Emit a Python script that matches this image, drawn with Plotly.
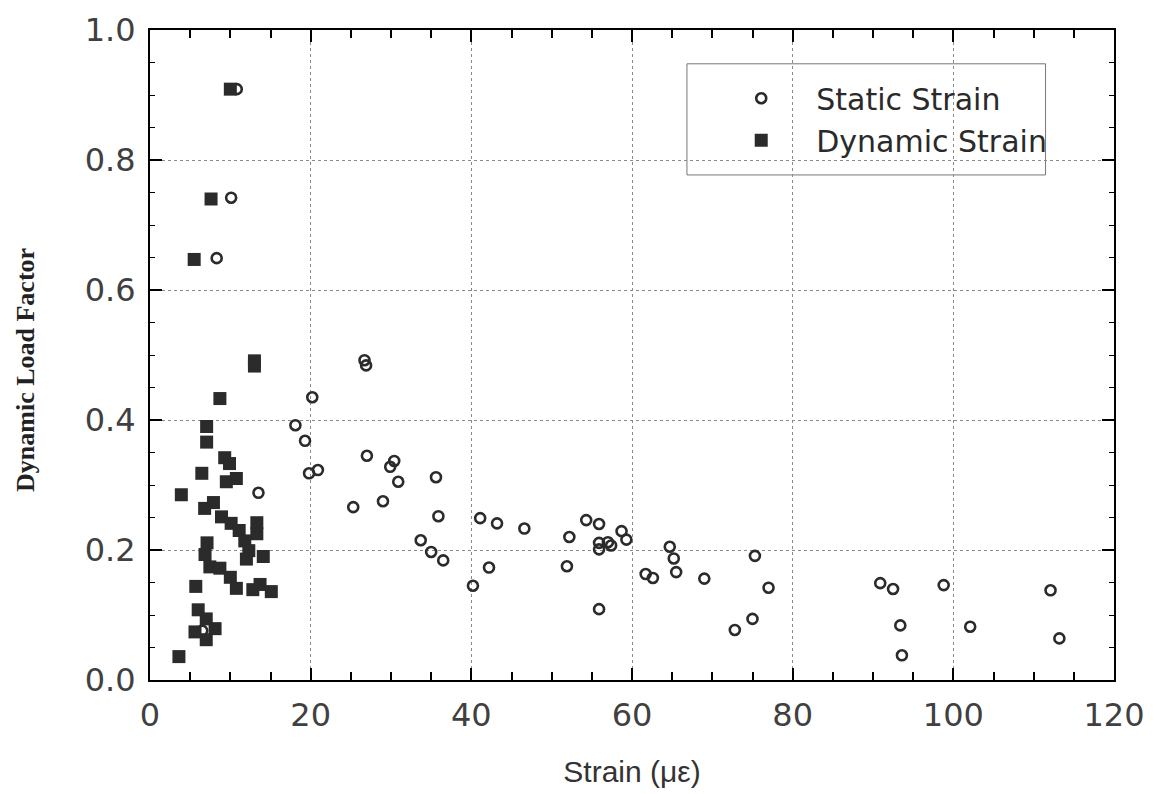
import plotly.graph_objects as go

# Static strain (open circles): strain in micro-strain, dynamic load factor
static_x = [10.8, 10.1, 8.3, 13.5, 6.5,
            18.1, 19.3, 20.2, 19.8, 20.9,
            26.7, 26.9, 27.0, 25.3, 29.0,
            30.4, 29.9, 30.9, 35.6, 35.9,
            33.7, 35.0, 36.5, 40.2, 41.1,
            42.2, 43.2, 46.6, 52.2, 51.9,
            54.3, 55.9, 55.9, 55.9, 57.0,
            57.4, 58.7, 59.3, 55.9,
            61.7, 62.6, 64.7, 65.2, 65.5,
            69.0, 72.8, 75.0, 75.3, 77.0,
            90.9, 92.5, 93.4, 93.6, 98.8,
            102.1, 112.1, 113.2]
static_y = [0.909, 0.742, 0.649, 0.288, 0.076,
            0.392, 0.368, 0.435, 0.318, 0.323,
            0.492, 0.484, 0.345, 0.266, 0.275,
            0.337, 0.328, 0.305, 0.312, 0.252,
            0.215, 0.197, 0.184, 0.145, 0.249,
            0.173, 0.241, 0.233, 0.220, 0.175,
            0.246, 0.240, 0.211, 0.201, 0.212,
            0.207, 0.229, 0.216, 0.109,
            0.163, 0.157, 0.205, 0.187, 0.166,
            0.156, 0.077, 0.094, 0.191, 0.142,
            0.149, 0.140, 0.084, 0.038, 0.146,
            0.082, 0.138, 0.064]

# Dynamic strain (filled squares)
dynamic_x = [10.0, 7.6, 5.5, 13.0, 13.0,
             8.7, 7.05, 7.05, 9.3, 9.9,
             6.45, 9.5, 10.75, 3.9, 6.8,
             7.9, 8.9, 10.1, 11.1, 13.3,
             13.3, 11.8, 12.3, 7.1, 12.0,
             14.1, 6.85, 7.45, 8.7, 10.0,
             10.75, 12.8, 13.7, 15.1, 5.7,
             6.0, 7.0, 5.6, 8.1, 7.0, 3.6]
dynamic_y = [0.909, 0.740, 0.647, 0.491, 0.483,
             0.433, 0.390, 0.366, 0.342, 0.333,
             0.318, 0.305, 0.310, 0.285, 0.264,
             0.273, 0.251, 0.241, 0.230, 0.242,
             0.225, 0.214, 0.199, 0.211, 0.186,
             0.190, 0.193, 0.174, 0.172, 0.158,
             0.141, 0.139, 0.147, 0.136, 0.144,
             0.108, 0.094, 0.074, 0.079, 0.062, 0.036]

x_ticks = [0, 20, 40, 60, 80, 100, 120]
y_ticks = [0.0, 0.2, 0.4, 0.6, 0.8, 1.0]

INK = '#2b2b2b'
TICK_FONT = dict(family='DejaVu Sans', size=32, color='#404040')

fig = go.Figure()

fig.add_trace(go.Scatter(
    x=static_x, y=static_y, mode='markers', name='Static Strain',
    marker=dict(symbol='circle-open', size=10, color=INK, line=dict(width=2.6, color=INK))
))
fig.add_trace(go.Scatter(
    x=dynamic_x, y=dynamic_y, mode='markers', name='Dynamic Strain',
    marker=dict(symbol='square', size=13, color=INK, line=dict(width=0))
))

axis_common = dict(
    showline=True, linecolor='black', linewidth=2, mirror='allticks',
    ticks='inside', ticklen=12, tickwidth=2, tickcolor='black',
    showgrid=True, gridcolor='#8a8a8a', gridwidth=1, griddash='dot',
    zeroline=False, tickfont=TICK_FONT, automargin=False,
)

fig.update_xaxes(
    range=[0, 120], tickvals=x_ticks,
    minor=dict(dtick=5, ticks='inside', ticklen=8, tickwidth=1.5, tickcolor='black', showgrid=False),
    title=dict(text='Strain (με)', font=dict(family='Liberation Sans Narrow, Liberation Sans', size=30, color='#333333'), standoff=28),
    ticklabelstandoff=6,
    **axis_common
)
fig.update_yaxes(
    range=[0, 1.0], tickvals=y_ticks, tickformat='.1f',
    minor=dict(dtick=0.05, ticks='inside', ticklen=5, tickwidth=1, tickcolor='black', showgrid=False),
    ticklabelstandoff=6,
    **axis_common
)

# y-axis title sits a little below the axis middle in the original
fig.add_annotation(
    text='<b>Dynamic Load Factor</b>', textangle=-90,
    xref='paper', yref='paper', x=-0.1286, y=0.477,
    xanchor='center', yanchor='middle', showarrow=False,
    font=dict(family='Liberation Serif', size=26, color='#222222'),
)

# legend frame
fig.add_shape(type='rect', xref='paper', yref='paper',
              x0=0.557, x1=0.929, y0=0.777, y1=0.948,
              line=dict(color='#777777', width=1), fillcolor='white', layer='below')

# page body has an 8px margin, so the figure margins are reduced by 8 on the top/left
fig.update_layout(
    width=1174, height=794,
    margin=dict(l=142, r=68, t=22, b=122),
    paper_bgcolor='white', plot_bgcolor='rgba(0,0,0,0)',
    showlegend=True,
    legend=dict(
        x=0.577, y=0.935, xanchor='left', yanchor='top',
        bgcolor='rgba(0,0,0,0)', borderwidth=0,
        font=dict(family='DejaVu Sans', size=30, color='#2a2a2a'),
        itemwidth=100, tracegroupgap=0,
    ),
)

fig.write_html("out.html")
